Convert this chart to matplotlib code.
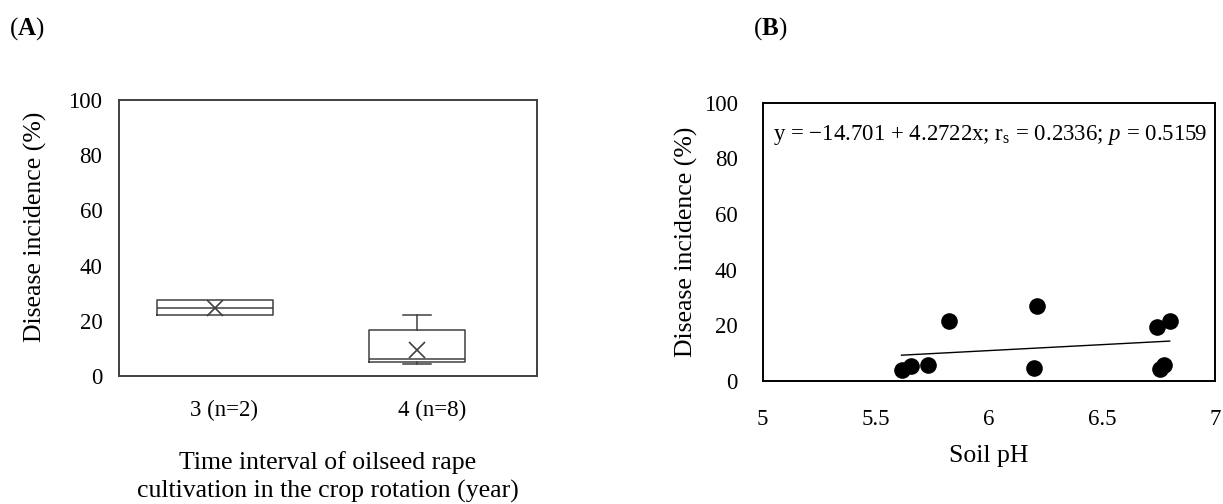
import numpy as np
import matplotlib
matplotlib.use("Agg")
import matplotlib.pyplot as plt

plt.rcParams['font.family'] = ['Liberation Serif', 'DejaVu Serif']
plt.rcParams['mathtext.fontset'] = 'custom'
plt.rcParams['mathtext.rm'] = 'Liberation Serif'
plt.rcParams['mathtext.it'] = 'Liberation Serif:italic'
plt.rcParams['mathtext.bf'] = 'Liberation Serif:bold'

### (A) box plot summary
groups = ['3 (n=2)', '4 (n=8)']
box_min = [22.0, 4.5]
box_q1 = [22.0, 5.1]
box_med = [24.6, 6.2]
box_q3 = [27.5, 16.6]
box_max = [27.5, 22.0]
box_mean = [24.6, 9.3]

### (B) soil pH vs disease incidence
soil_ph = [5.614, 5.656, 5.732, 5.824, 6.211, 6.201, 6.742, 6.800, 6.759, 6.774]
incidence = [3.9, 5.4, 5.7, 21.7, 27.1, 4.6, 19.5, 21.7, 4.2, 5.8]
fit_a, fit_b = -14.701, 4.2722

fs = 16.5   # tick labels
fl = 18.5   # axis labels
gray = '#404040'

fig = plt.figure(figsize=(12.23, 5.04), dpi=100)

"(A) box plot"
ax1 = fig.add_axes([0.0973, 0.254, 0.3418, 0.5476])
stats = []
for i in range(len(groups)):
    stats.append(dict(whislo=box_min[i], q1=box_q1[i], med=box_med[i],
                      q3=box_q3[i], whishi=box_max[i], mean=box_mean[i]))
ax1.bxp(stats, positions=[0.958, 1.924], widths=[0.555, 0.46],
        showmeans=True, showfliers=False, manage_ticks=False,
        boxprops=dict(color=gray, linewidth=1.1),
        medianprops=dict(color=gray, linewidth=1.1),
        whiskerprops=dict(color=gray, linewidth=1.1),
        capprops=dict(color=gray, linewidth=1.1),
        capwidths=[0.0, 0.135],
        meanprops=dict(marker='x', markeredgecolor=gray, markersize=12,
                       markeredgewidth=1.2))
ax1.set_xlim(0.5, 2.5)
ax1.set_ylim(0, 100)
ax1.set_xticks([1, 2])
ax1.set_xticklabels(groups)
ax1.set_yticks(np.arange(0, 101, 20))
ax1.tick_params(length=0, labelsize=fs)
ax1.tick_params(axis='y', pad=12)
ax1.tick_params(axis='x', pad=17)
for s in ax1.spines.values():
    s.set_color(gray)
    s.set_linewidth(1.4)
ax1.set_ylabel('Disease incidence (%)', fontsize=fl, va='center')
ax1.yaxis.set_label_coords(-0.2, 0.54)
ax1.set_xlabel('Time interval of oilseed rape\ncultivation in the crop rotation (year)',
               fontsize=fl, labelpad=22, linespacing=1.3)

"(B) scatter with trend line"
ax2 = fig.add_axes([0.6236, 0.244, 0.3698, 0.5522])
ax2.scatter(soil_ph, incidence, s=120, color='black', zorder=3)
xl = np.array([min(soil_ph), max(soil_ph)])
ax2.plot(xl, fit_a + fit_b * xl, color='black', linewidth=1.0)
ax2.set_xlim(5, 7)
ax2.set_ylim(0, 100)
ax2.set_xticks([5, 5.5, 6, 6.5, 7])
ax2.set_xticklabels(['5', '5.5', '6', '6.5', '7'])
ax2.set_yticks(np.arange(0, 101, 20))
ax2.tick_params(length=0, labelsize=fs)
ax2.tick_params(axis='y', pad=18)
ax2.tick_params(axis='x', pad=20)
for s in ax2.spines.values():
    s.set_color('black')
    s.set_linewidth(1.4)
ax2.set_ylabel('Disease incidence (%)', fontsize=fl, labelpad=4)
ax2.set_xlabel('Soil pH', fontsize=fl, labelpad=11)
ax2.text(0.022, 0.885,
         r'y = $-$14.701 + 4.2722x; r$_\mathrm{s}$ = 0.2336; $p$ = 0.5159',
         transform=ax2.transAxes, fontsize=16.5, va='center', ha='left')

### Panel letters
fig.text(0.007, 0.943, r'($\mathbf{A}$)', fontsize=18, va='center')
fig.text(0.6155, 0.943, r'($\mathbf{B}$)', fontsize=18, va='center')

plt.savefig('out.png', dpi=100)
